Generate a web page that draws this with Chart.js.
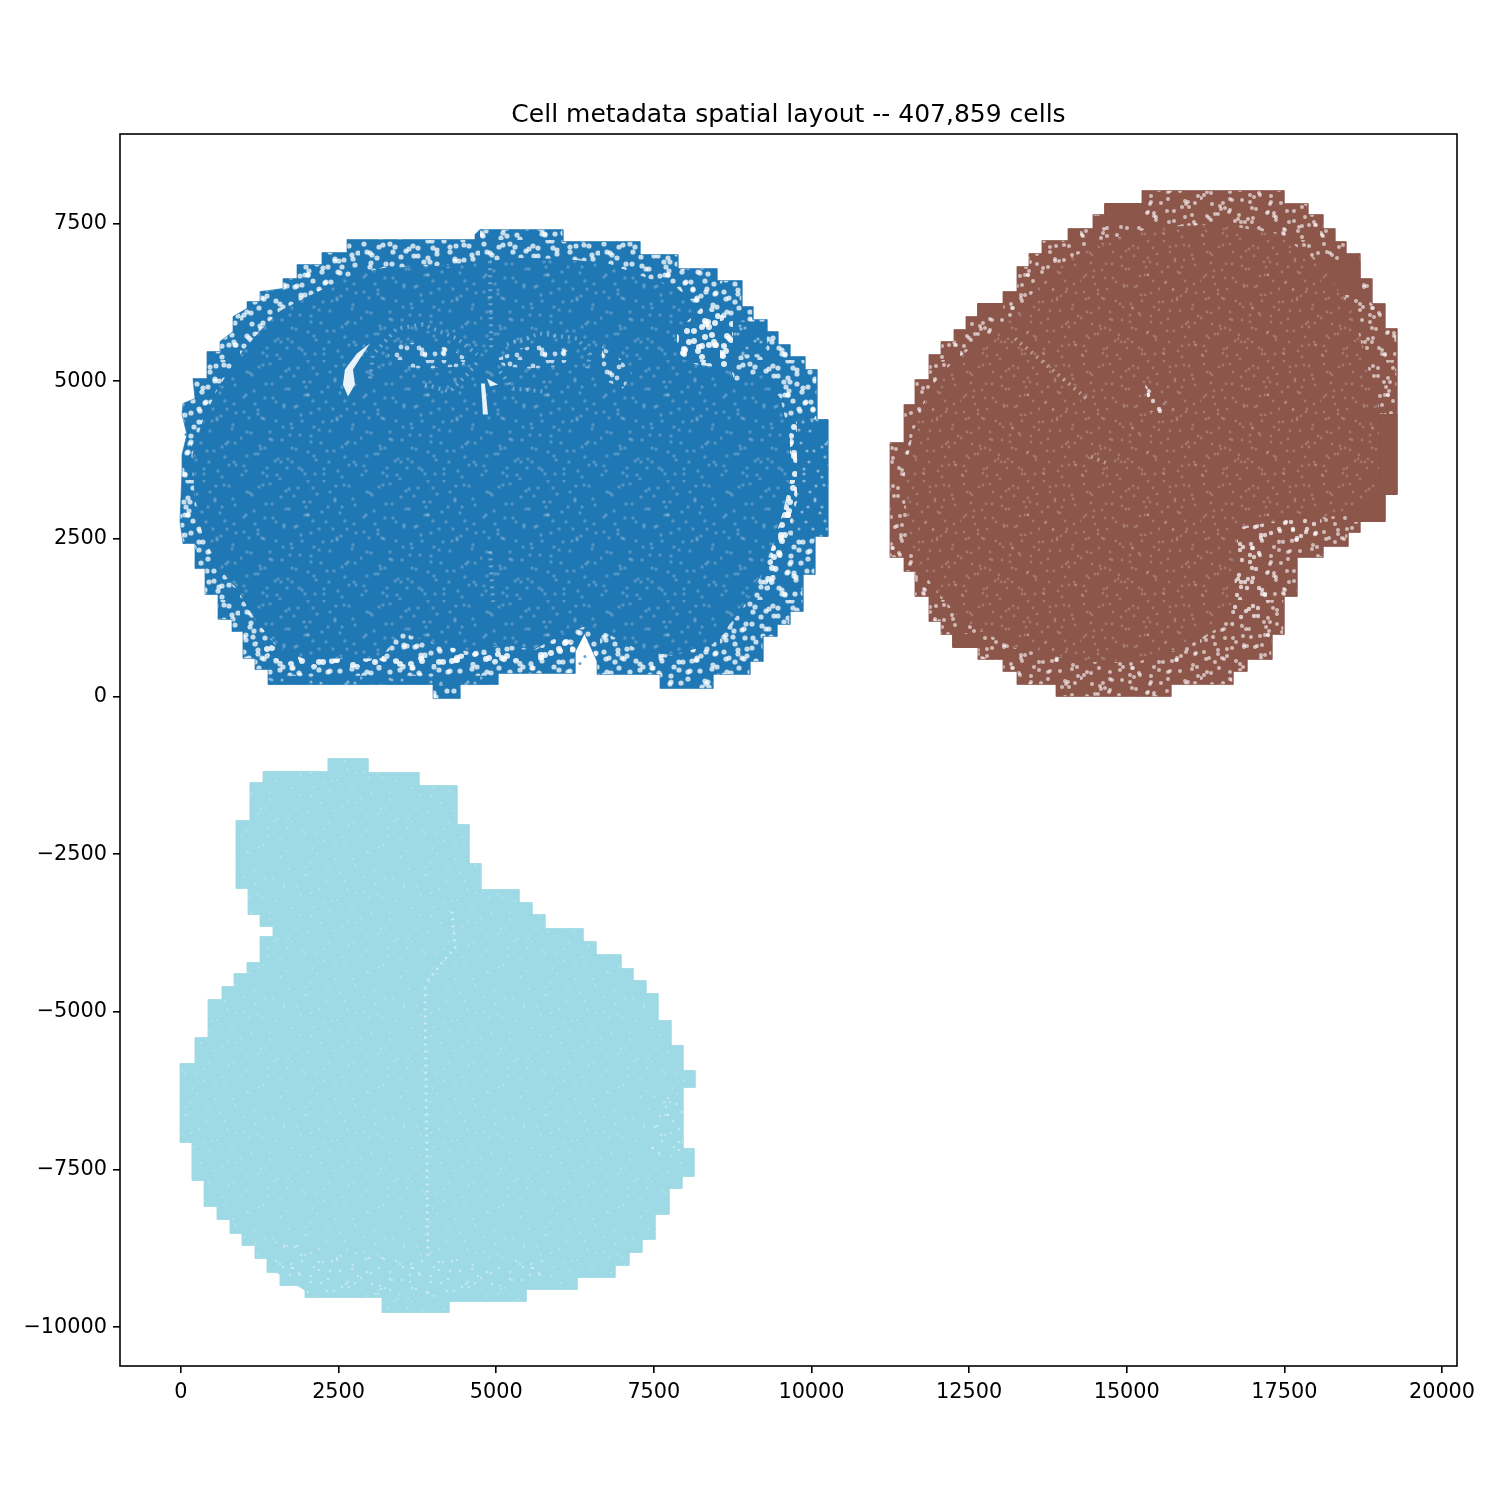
<!DOCTYPE html>
<html>
<head>
<meta charset="utf-8">
<title>Cell metadata spatial layout</title>
<script src="https://cdn.jsdelivr.net/npm/chart.js@4/dist/chart.umd.min.js"></script>
<style>
    body { margin: 0; background: #fff; }
    canvas { display: block; }
</style>
</head>
<body>
<canvas id="layoutChart" width="1500" height="1500"></canvas>
<script>
const chartTitle = "Cell metadata spatial layout -- 407,859 cells";
const xTicks = [0, 2500, 5000, 7500, 10000, 12500, 15000, 17500, 20000];
const yTicks = [7500, 5000, 2500, 0, -2500, -5000, -7500, -10000];

// outlines, in plot units
const blueOuter = [[4742,7404],[6059,7404],[6059,7214],[7280,7214],[7280,7008],[7882,7008],[7882,6786],[8501,6786],[8501,6596],[8897,6596],[8897,6183],[9072,6183],[9072,5977],[9294,5977],[9294,5787],[9468,5787],[9468,5581],[9659,5581],[9659,5391],[9897,5391],[9897,5185],[10087,5185],[10087,4392],[10261,4392],[10261,2537],[10055,2537],[10055,1934],[9865,1934],[9865,1348],[9659,1348],[9659,1142],[9453,1142],[9453,951],[9231,951],[9231,555],[9024,555],[9024,349],[8438,349],[8438,127],[7597,127],[7597,349],[6598,349],[6598,560],[6400,1000],[6249,700],[6249,365],[5028,365],[5028,190],[4425,190],[4425,-32],[3997,-32],[3997,190],[1380,190],[1380,428],[1174,428],[1174,602],[983,602],[983,1031],[809,1031],[809,1221],[587,1221],[587,1617],[381,1617],[381,2029],[222,2029],[222,2426],[32,2426],[-16,2775],[16,3567],[16,3837],[95,4154],[16,4471],[32,4646],[222,4725],[190,5042],[412,5042],[412,5470],[619,5470],[619,5629],[825,5787],[825,6025],[1047,6152],[1047,6263],[1253,6263],[1253,6421],[1618,6469],[1618,6627],[1840,6627],[1840,6849],[2236,6849],[2236,7040],[2633,7040],[2633,7246],[4663,7246],[4663,7325],[4742,7404]];
const blueInner = [[4901,6897],[4060,6818],[3204,6786],[2680,6659],[1935,6294],[1570,6104],[1253,5787],[888,5359],[571,4836],[349,4360],[190,3837],[222,3203],[349,2569],[619,2029],[888,1712],[1205,1189],[1570,761],[1935,602],[2474,602],[3156,602],[3473,1031],[4060,840],[4584,713],[5107,840],[5583,745],[6122,1031],[6487,1142],[6804,983],[7327,713],[7803,666],[8438,840],[8866,1348],[9231,1982],[9548,2933],[9659,3409],[9659,4043],[9500,4725],[9183,5153],[8786,4915],[8707,5232],[8073,5280],[7867,5470],[7867,5787],[8231,6152],[7867,6469],[7391,6627],[6804,6849],[6122,6929],[5377,6945],[4901,6897]];
const blueDenseTiles = [[[8755,5423],[9294,5423],[9294,5946],[8755,5946],[8755,5423]],[[9706,2537],[10261,2537],[10261,4392],[9706,4392],[9706,2537]],[[1380,190],[5028,190],[5028,330],[1380,330],[1380,190]]];
const blueSparseAreas = [
    [[7867,5787],[8279,6183],[8755,5977],[8755,5185],[8073,5280],[7867,5470],[7867,5787]],
    [[9659,4360],[9770,4360],[9770,3092],[9579,2378],[9468,2061],[9342,1665],[9262,1903],[9548,2933],[9659,3409],[9659,4360]],
    [[1285,872],[1570,761],[1935,602],[3473,602],[4584,682],[5583,713],[6122,999],[6249,713],[5583,555],[4584,523],[3473,476],[1935,460],[1491,555],[1174,872],[1285,872]]
];
const blueHoles = [
    [[2998,5597],[2791,5438],[2601,5185],[2569,4947],[2649,4757],[2760,4947],[2728,5185],[2839,5359],[2998,5597]],
    [[4758,4963],[4821,4963],[4869,4471],[4790,4471],[4758,4963]],
    [[4853,5042],[5028,4947],[4901,4915],[4853,5042]]
];
const blueSpeckled = [
    [[6677,5549],[6963,5359],[7153,5121],[7010,4883],[6645,5042],[6677,5311],[6677,5549]],
    [[3283,5438],[3473,5581],[3870,5629],[4266,5518],[4584,5343],[4425,5232],[3870,5200],[3473,5232],[3315,5311],[3283,5438]],
    [[4980,5343],[5377,5518],[5852,5597],[6170,5470],[6217,5343],[5932,5232],[5535,5200],[5139,5232],[4980,5343]]
];
const blueStreaks = [
    [[2998,5042],[3045,5422],[3426,5835],[3838,5898],[4377,5676],[4695,5422]],
    [[3870,4947],[4266,4836],[4584,5153],[4710,5311]],
    [[5059,5153],[5266,4883],[5741,4836]],
    [[5170,5581],[5694,5755],[6281,5676],[6487,5422],[6439,5200]],
    [[4900,6900],[4920,5500]],
    [[4900,2300],[4950,1500]]
];
const blueStray = [[48,4598],[79,4154],[143,3964],[16,2775],[48,2442],[6487,872],[6407,634],[6328,523],[6534,1031]];

const brownOuter = [[15241,8023],[17494,8023],[17494,7817],[17874,7817],[17874,7642],[18112,7642],[18112,7420],[18302,7420],[18302,7214],[18477,7214],[18477,7024],[18699,7024],[18699,6627],[18889,6627],[18889,6231],[19095,6231],[19095,5835],[19286,5835],[19286,3203],[19095,3203],[19095,2775],[18699,2775],[18699,2600],[18509,2600],[18509,2378],[18112,2378],[18112,2204],[17700,2204],[17700,1586],[17494,1586],[17494,983],[17303,983],[17303,587],[16907,587],[16907,396],[16685,396],[16685,190],[15701,190],[15701,0],[13878,0],[13878,190],[13259,190],[13259,396],[13037,396],[13037,587],[12640,587],[12640,777],[12244,777],[12244,983],[12054,983],[12054,1189],[11863,1189],[11863,1586],[11641,1586],[11641,1982],[11467,1982],[11467,2204],[11245,2204],[11245,4027],[11467,4027],[11467,4630],[11641,4630],[11641,5026],[11863,5026],[11863,5422],[12054,5422],[12054,5629],[12260,5629],[12260,5819],[12450,5819],[12450,6025],[12640,6025],[12640,6231],[13037,6231],[13037,6421],[13259,6421],[13259,6818],[13449,6818],[13449,7024],[13655,7024],[13655,7230],[14068,7230],[14068,7420],[14464,7420],[14464,7642],[14655,7642],[14655,7817],[15241,7817],[15241,8023]];
const brownInner = [[13386,6215],[13766,6738],[14417,7103],[15368,7420],[16447,7484],[17414,7325],[18160,6786],[18588,6057],[19016,4471],[19016,3409],[18540,2886],[18001,2838],[17097,2679],[16923,2362],[16764,1570],[16447,1094],[15908,777],[15162,555],[14306,555],[13227,777],[12418,1189],[11943,1728],[11562,2362],[11467,3409],[11625,4202],[11895,4899],[12260,5311],[12910,5787],[13386,6215]];
const brownDenseTiles = [
    [[18588,3203],[19286,3203],[19286,4471],[18588,4471],[18588,3203]],
    [[18540,2775],[19095,2775],[19095,3409],[18540,3409],[18540,2775]],
    [[12640,6025],[13037,6025],[13037,6231],[12640,6231],[12640,6025]],
    [[14655,7484],[15241,7484],[15241,7817],[14655,7817],[14655,7484]],
    [[18160,6374],[18699,6374],[18699,6897],[18160,6897],[18160,6374]],
    [[12244,777],[12640,777],[12640,983],[12244,983],[12244,777]]
];
const brownSparseAreas = [
    [[16764,2679],[18049,2886],[18049,2489],[17097,2457],[17303,1300],[16669,1094],[16764,2679]],
    [[15289,4947],[15781,4439],[15368,4519],[15289,4947]]
];
const brownStreaks = [
    [[14433,3805],[14734,3678]],
    [[13227,5676],[14417,4677]]
];

const tealOuter = [[2331,-983],[2966,-983],[2966,-1205],[3775,-1205],[3775,-1411],[4377,-1411],[4377,-2029],[4568,-2029],[4568,-2648],[4758,-2648],[4758,-3060],[5361,-3060],[5361,-3266],[5567,-3266],[5567,-3456],[5773,-3456],[5773,-3678],[6376,-3678],[6376,-3884],[6582,-3884],[6582,-4091],[6978,-4091],[6978,-4313],[7169,-4313],[7169,-4503],[7375,-4503],[7375,-4709],[7565,-4709],[7565,-5137],[7771,-5137],[7771,-5533],[7962,-5533],[7962,-5930],[8152,-5930],[8152,-6199],[7962,-6199],[7962,-7166],[8136,-7166],[8136,-7610],[7946,-7610],[7946,-7801],[7740,-7801],[7740,-8213],[7518,-8213],[7518,-8609],[7311,-8609],[7311,-8815],[7105,-8815],[7105,-9021],[6883,-9021],[6883,-9212],[6281,-9212],[6281,-9402],[5472,-9402],[5472,-9592],[4250,-9592],[4250,-9767],[3188,-9767],[3188,-9529],[1967,-9529],[1967,-9339],[1570,-9339],[1570,-9132],[1364,-9132],[1364,-8911],[1174,-8911],[1174,-8704],[967,-8704],[967,-8514],[777,-8514],[777,-8292],[571,-8292],[571,-8086],[365,-8086],[365,-7674],[174,-7674],[174,-7071],[-16,-7071],[-16,-5819],[222,-5819],[222,-5407],[428,-5407],[428,-4804],[650,-4804],[650,-4598],[841,-4598],[841,-4392],[1047,-4392],[1047,-4217],[1253,-4217],[1253,-3805],[1459,-3805],[1459,-3647],[1253,-3647],[1253,-3456],[1063,-3456],[1063,-3044],[872,-3044],[872,-1966],[1094,-1966],[1094,-1364],[1301,-1364],[1301,-1189],[2331,-1189],[2331,-983]];
const tealSparseAreas = [
    [[1459,-8641],[2553,-8815],[4187,-8926],[5821,-8926],[5821,-9212],[4187,-9513],[2014,-9450],[1459,-9101],[1459,-8641]],
    [[7470,-6342],[7962,-6342],[7962,-7262],[7470,-7262],[7470,-6342]]
];
const tealStreaks = [
    [[3870,-4614],[3917,-8926]],
    [[4298,-3409],[4346,-3980],[3870,-4550]]
];

const xRange = [-967, 20238];
const yRange = [-10615, 8919];

// texture offsets for the dense clouds of overlapping dots (look only, no data in here)
const speckleSpots = [[7,12],[23,5],[41,17],[58,8],[77,14],[96,6],[113,19],[14,31],[33,38],[49,29],[68,35],[88,27],[105,41],[4,52],[22,58],[44,47],[61,55],[79,49],[97,60],[116,53],[11,73],[30,79],[52,68],[71,76],[90,71],[108,82],[18,94],[38,99],[56,89],[74,96],[94,91],[114,102],[6,111],[27,116],[47,108],[65,114],[84,109],[102,117],[36,61],[83,62],[15,44],[100,33],[52,102],[70,22],[25,88]];
const speckleShifts = [[1,0,0,0,1,0],[0,1,13,1,0,31],[-1,0,120,0,1,53],[0,1,71,-1,0,120],[1,0,47,0,-1,89]];

function makeSpeckle(color, alpha, radius, step, layers) {
    let tile = document.createElement("canvas");
    tile.width = 120;
    tile.height = 120;
    let c = tile.getContext("2d");
    c.fillStyle = color;
    c.fillRect(0, 0, 120, 120);
    c.fillStyle = "rgba(255,255,255," + alpha + ")";
    for (let l = 0; l < layers; l++) {
        let m = speckleShifts[l];
        speckleSpots.forEach((s, i) => {
            if (i % step !== 0) return;
            let x = (m[0] * s[0] + m[1] * s[1] + m[2] + 240) % 120;
            let y = (m[3] * s[0] + m[4] * s[1] + m[5] + 240) % 120;
            c.beginPath();
            c.arc(x, y, radius, 0, Math.PI * 2);
            c.fill();
        });
    }
    return c.createPattern(tile, "repeat");
}

function toPoints(list) {
    return list.map(p => ({ x: p[0], y: p[1] }));
}

const blue = "#1f77b4";
const brown = "#8c564b";
const teal = "#9edae5";

let datasets = [];

function addArea(list, fillStyle, edge) {
    datasets.push({
        data: toPoints(list),
        showLine: true,
        fill: "shape",
        backgroundColor: fillStyle,
        borderColor: edge,
        borderWidth: 1,
        pointRadius: 0,
        tension: 0
    });
}

function addStreak(list, color, width) {
    datasets.push({
        data: toPoints(list),
        showLine: true,
        fill: false,
        borderColor: color,
        borderWidth: width,
        borderDash: [2, 5],
        pointRadius: 0,
        tension: 0
    });
}

// blue section
addArea(blueOuter, makeSpeckle(blue, 0.75, 2.6, 1, 5), "rgba(31,119,180,0.6)");
blueDenseTiles.forEach(t => addArea(t, makeSpeckle(blue, 0.45, 1.6, 1, 3), "rgba(31,119,180,0)"));
addArea(blueInner, makeSpeckle(blue, 0.22, 1.8, 1, 3), blue);
blueSparseAreas.forEach(a => addArea(a, makeSpeckle(blue, 0.85, 3, 1, 5), "rgba(31,119,180,0)"));
blueSpeckled.forEach(a => addArea(a, makeSpeckle(blue, 0.7, 2.4, 1, 5), "rgba(31,119,180,0)"));
blueHoles.forEach(a => addArea(a, "rgba(255,255,255,0.9)", "rgba(255,255,255,0)"));
blueStreaks.forEach(a => addStreak(a, "rgba(255,255,255,0.35)", 4));
datasets.push({ data: toPoints(blueStray), backgroundColor: "rgba(31,119,180,0.7)", borderWidth: 0, pointRadius: 1.5 });

// brown section
addArea(brownOuter, makeSpeckle(brown, 0.6, 2, 1, 5), "rgba(140,86,75,0.7)");
brownDenseTiles.forEach(t => addArea(t, brown, brown));
addArea(brownInner, makeSpeckle(brown, 0.2, 1.4, 1, 4), brown);
brownSparseAreas.forEach(a => addArea(a, makeSpeckle(brown, 0.7, 2.2, 1, 5), "rgba(140,86,75,0)"));
brownStreaks.forEach(a => addStreak(a, "rgba(255,255,255,0.4)", 4));

// light section
addArea(tealOuter, makeSpeckle(teal, 0.2, 1.2, 1, 2), "rgba(158,218,229,0.8)");
tealSparseAreas.forEach(a => addArea(a, makeSpeckle(teal, 0.35, 1.3, 1, 4), "rgba(158,218,229,0)"));
tealStreaks.forEach(a => addStreak(a, "rgba(255,255,255,0.45)", 3));

// first dataset in the list has to paint first
datasets.forEach((d, i) => { d.order = datasets.length - i; });

const frame = {
    id: "frame",
    afterDraw(chart) {
        let a = chart.chartArea;
        let ctx = chart.ctx;
        ctx.save();
        ctx.strokeStyle = "#000";
        ctx.lineWidth = 1.6;
        ctx.strokeRect(a.left, a.top, a.right - a.left, a.bottom - a.top);
        ctx.restore();
    }
};

function tickText(v) {
    return v < 0 ? "\u2212" + Math.abs(v) : String(v);
}

const tickFont = { family: "'DejaVu Sans'", size: 20.8 };

new Chart(document.getElementById("layoutChart"), {
    type: "scatter",
    data: { datasets: datasets },
    plugins: [frame],
    options: {
        responsive: false,
        animation: false,
        events: [],
        layout: { padding: { top: 98, right: 43, left: 0, bottom: 0 } },
        plugins: {
            legend: { display: false },
            tooltip: { enabled: false },
            title: {
                display: true,
                text: chartTitle,
                color: "#000",
                fullSize: false,
                font: { family: "'DejaVu Sans'", size: 25, weight: "normal" },
                padding: { top: 2, bottom: 4 }
            }
        },
        scales: {
            x: {
                type: "linear",
                min: xRange[0],
                max: xRange[1],
                afterBuildTicks: s => { s.ticks = xTicks.map(v => ({ value: v })); },
                afterFit: s => { s.height = 134; },
                ticks: {
                    color: "#000",
                    font: tickFont,
                    padding: 7,
                    maxRotation: 0,
                    autoSkip: false,
                    callback: tickText
                },
                grid: { drawOnChartArea: false, drawTicks: true, tickLength: 7, tickColor: "#000", lineWidth: 1.6 },
                border: { display: false }
            },
            y: {
                type: "linear",
                min: yRange[0],
                max: yRange[1],
                afterBuildTicks: s => { s.ticks = yTicks.map(v => ({ value: v })); },
                afterFit: s => { s.width = 120; },
                ticks: {
                    color: "#000",
                    font: tickFont,
                    padding: 6,
                    autoSkip: false,
                    callback: tickText
                },
                grid: { drawOnChartArea: false, drawTicks: true, tickLength: 7, tickColor: "#000", lineWidth: 1.6 },
                border: { display: false }
            }
        }
    }
});
</script>
</body>
</html>
